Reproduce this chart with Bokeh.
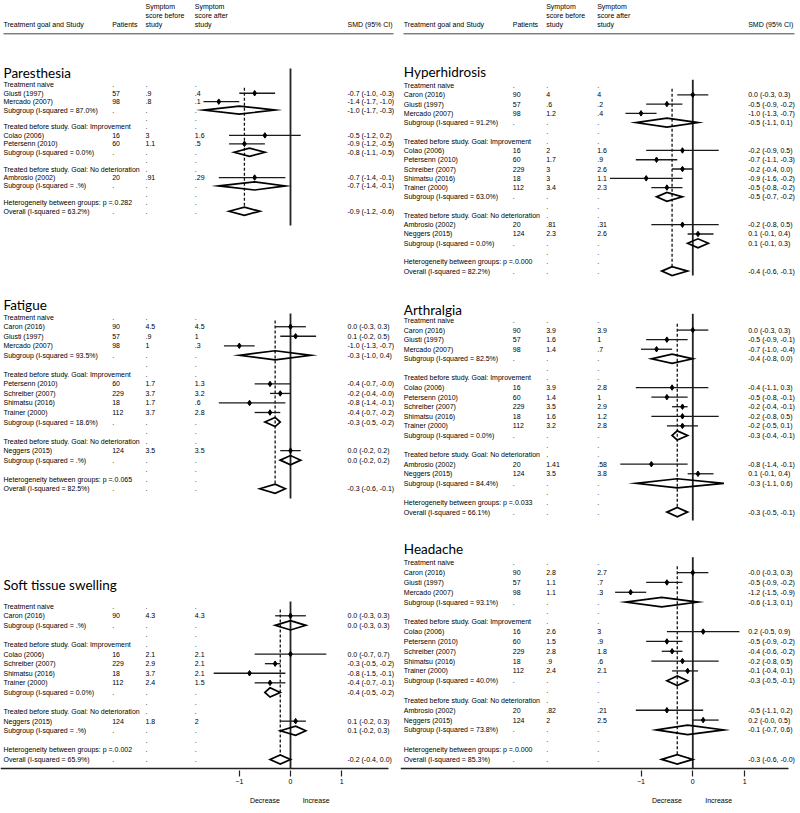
from bokeh.plotting import figure
from bokeh.models import Range1d, FixedTicker, LinearAxis, ColumnDataSource, CustomJSTickFormatter
from bokeh.layouts import row
from bokeh.embed import file_html
from bokeh.resources import INLINE
from bokeh.core.properties import value

# ---------------- data ----------------
GROUPS = ["Treatment naive",
          "Treated before study. Goal: Improvement",
          "Treated before study. Goal: No deterioration"]

# Paresthesia
PAR_STUDY = ["Giusti (1997)", "Mercado (2007)", "Colao (2006)", "Petersenn (2010)", "Ambrosio (2002)"]
PAR_GROUP = [0, 0, 1, 1, 2]
PAR_N = [57, 98, 16, 60, 20]
PAR_BEFORE = [".9", ".8", "3", "1.1", ".91"]
PAR_AFTER = [".4", ".1", "1.6", ".5", ".29"]
PAR_SMD = [-0.7, -1.4, -0.5, -0.9, -0.7]
PAR_LO = [-1.0, -1.7, -1.2, -1.2, -1.4]
PAR_HI = [-0.3, -1.0, 0.2, -0.5, -0.1]
PAR_SUB_I2 = ["87.0%", "0.0%", ".%"]
PAR_SUB_SMD = [-1.0, -0.8, -0.7]
PAR_SUB_LO = [-1.7, -1.1, -1.4]
PAR_SUB_HI = [-0.3, -0.5, -0.1]
PAR_HET_P = "0.282"
PAR_OV = ["63.2%", -0.9, -1.2, -0.6]

# Fatigue
FAT_STUDY = ["Caron (2016)", "Giusti (1997)", "Mercado (2007)", "Petersenn (2010)",
             "Schreiber (2007)", "Shimatsu (2016)", "Trainer (2000)", "Neggers (2015)"]
FAT_GROUP = [0, 0, 0, 1, 1, 1, 1, 2]
FAT_N = [90, 57, 98, 60, 229, 18, 112, 124]
FAT_BEFORE = ["4.5", ".9", "1", "1.7", "3.7", "1.7", "3.7", "3.5"]
FAT_AFTER = ["4.5", "1", ".3", "1.3", "3.2", ".6", "2.8", "3.5"]
FAT_SMD = [0.0, 0.1, -1.0, -0.4, -0.2, -0.8, -0.4, 0.0]
FAT_LO = [-0.3, -0.2, -1.3, -0.7, -0.4, -1.4, -0.7, -0.2]
FAT_HI = [0.3, 0.5, -0.7, -0.0, -0.0, -0.1, -0.2, 0.2]
FAT_SUB_I2 = ["93.5%", "18.6%", ".%"]
FAT_SUB_SMD = [-0.3, -0.3, 0.0]
FAT_SUB_LO = [-1.0, -0.5, -0.2]
FAT_SUB_HI = [0.4, -0.2, 0.2]
FAT_HET_P = "0.065"
FAT_OV = ["82.5%", -0.3, -0.6, -0.1]

# Soft tissue swelling
SOF_STUDY = ["Caron (2016)", "Colao (2006)", "Schreiber (2007)", "Shimatsu (2016)",
             "Trainer (2000)", "Neggers (2015)"]
SOF_GROUP = [0, 1, 1, 1, 1, 2]
SOF_N = [90, 16, 229, 18, 112, 124]
SOF_BEFORE = ["4.3", "2.1", "2.9", "3.7", "2.4", "1.8"]
SOF_AFTER = ["4.3", "2.1", "2.1", "2.1", "1.5", "2"]
SOF_SMD = [0.0, 0.0, -0.3, -0.8, -0.4, 0.1]
SOF_LO = [-0.3, -0.7, -0.5, -1.5, -0.7, -0.2]
SOF_HI = [0.3, 0.7, -0.2, -0.1, -0.1, 0.3]
SOF_SUB_I2 = [".%", "0.0%", ".%"]
SOF_SUB_SMD = [0.0, -0.4, 0.1]
SOF_SUB_LO = [-0.3, -0.5, -0.2]
SOF_SUB_HI = [0.3, -0.2, 0.3]
SOF_HET_P = "0.002"
SOF_OV = ["65.9%", -0.2, -0.4, 0.0]

# Studies shared by Hyperhidrosis, Arthralgia and Headache
ALL_STUDY = ["Caron (2016)", "Giusti (1997)", "Mercado (2007)", "Colao (2006)", "Petersenn (2010)",
             "Schreiber (2007)", "Shimatsu (2016)", "Trainer (2000)", "Ambrosio (2002)", "Neggers (2015)"]
ALL_GROUP = [0, 0, 0, 1, 1, 1, 1, 1, 2, 2]
ALL_N = [90, 57, 98, 16, 60, 229, 18, 112, 20, 124]

# Hyperhidrosis
HYP_BEFORE = ["4", ".6", "1.2", "2", "1.7", "3", "3", "3.4", ".81", "2.3"]
HYP_AFTER = ["4", ".2", ".4", "1.6", ".9", "2.6", "1.1", "2.3", ".31", "2.6"]
HYP_SMD = [0.0, -0.5, -1.0, -0.2, -0.7, -0.2, -0.9, -0.5, -0.2, 0.1]
HYP_LO = [-0.3, -0.9, -1.3, -0.9, -1.1, -0.4, -1.6, -0.8, -0.8, -0.1]
HYP_HI = [0.3, -0.2, -0.7, 0.5, -0.3, 0.0, -0.2, -0.2, 0.5, 0.4]
HYP_SUB_I2 = ["91.2%", "63.0%", "0.0%"]
HYP_SUB_SMD = [-0.5, -0.5, 0.1]
HYP_SUB_LO = [-1.1, -0.7, -0.1]
HYP_SUB_HI = [0.1, -0.2, 0.3]
HYP_HET_P = "0.000"
HYP_OV = ["82.2%", -0.4, -0.6, -0.1]

# Arthralgia
ART_BEFORE = ["3.9", "1.6", "1.4", "3.9", "1.4", "3.5", "1.6", "3.2", "1.41", "3.5"]
ART_AFTER = ["3.9", "1", ".7", "2.8", "1", "2.9", "1.2", "2.8", ".58", "3.8"]
ART_SMD = [0.0, -0.5, -0.7, -0.4, -0.5, -0.2, -0.2, -0.2, -0.8, 0.1]
ART_LO = [-0.3, -0.9, -1.0, -1.1, -0.8, -0.4, -0.8, -0.5, -1.4, -0.1]
ART_HI = [0.3, -0.1, -0.4, 0.3, -0.1, -0.1, 0.5, 0.1, -0.1, 0.4]
ART_SUB_I2 = ["82.5%", "0.0%", "84.4%"]
ART_SUB_SMD = [-0.4, -0.3, -0.3]
ART_SUB_LO = [-0.8, -0.4, -1.1]
ART_SUB_HI = [0.0, -0.1, 0.6]
ART_HET_P = "0.033"
ART_OV = ["66.1%", -0.3, -0.5, -0.1]

# Headache
HEA_BEFORE = ["2.8", "1.1", "1.1", "2.6", "1.5", "2.8", ".9", "2.4", ".82", "2"]
HEA_AFTER = ["2.7", ".7", ".3", "3", ".9", "1.8", ".6", "2.1", ".21", "2.5"]
HEA_SMD = [-0.0, -0.5, -1.2, 0.2, -0.5, -0.4, -0.2, -0.1, -0.5, 0.2]
HEA_LO = [-0.3, -0.9, -1.5, -0.5, -0.9, -0.6, -0.8, -0.4, -1.1, -0.0]
HEA_HI = [0.3, -0.2, -0.9, 0.9, -0.2, -0.2, 0.5, 0.1, 0.2, 0.5]
HEA_SUB_I2 = ["93.1%", "40.0%", "73.8%"]
HEA_SUB_SMD = [-0.6, -0.3, -0.1]
HEA_SUB_LO = [-1.3, -0.5, -0.7]
HEA_SUB_HI = [0.1, -0.1, 0.6]
HEA_HET_P = "0.000"
HEA_OV = ["85.3%", -0.3, -0.6, -0.0]

AXIS_TICKS = [-1, 0, 1]
DIRECTION_TICKS = [-0.5, 0.5]
DIRECTION_LABELS = ["Decrease", "Increase"]


def panel(title, study, group, n, before, after, smd, lo, hi, si2, ssmd, slo, shi, het, ov):
    return dict(title=title, study=study, group=group, n=n, before=before, after=after,
                smd=smd, lo=lo, hi=hi, si2=si2, ssmd=ssmd, slo=slo, shi=shi, het=het, ov=ov)


LEFT = [
    panel("Paresthesia", PAR_STUDY, PAR_GROUP, PAR_N, PAR_BEFORE, PAR_AFTER, PAR_SMD, PAR_LO, PAR_HI,
          PAR_SUB_I2, PAR_SUB_SMD, PAR_SUB_LO, PAR_SUB_HI, PAR_HET_P, PAR_OV),
    panel("Fatigue", FAT_STUDY, FAT_GROUP, FAT_N, FAT_BEFORE, FAT_AFTER, FAT_SMD, FAT_LO, FAT_HI,
          FAT_SUB_I2, FAT_SUB_SMD, FAT_SUB_LO, FAT_SUB_HI, FAT_HET_P, FAT_OV),
    panel("Soft tissue swelling", SOF_STUDY, SOF_GROUP, SOF_N, SOF_BEFORE, SOF_AFTER, SOF_SMD, SOF_LO, SOF_HI,
          SOF_SUB_I2, SOF_SUB_SMD, SOF_SUB_LO, SOF_SUB_HI, SOF_HET_P, SOF_OV),
]
RIGHT = [
    panel("Hyperhidrosis", ALL_STUDY, ALL_GROUP, ALL_N, HYP_BEFORE, HYP_AFTER, HYP_SMD, HYP_LO, HYP_HI,
          HYP_SUB_I2, HYP_SUB_SMD, HYP_SUB_LO, HYP_SUB_HI, HYP_HET_P, HYP_OV),
    panel("Arthralgia", ALL_STUDY, ALL_GROUP, ALL_N, ART_BEFORE, ART_AFTER, ART_SMD, ART_LO, ART_HI,
          ART_SUB_I2, ART_SUB_SMD, ART_SUB_LO, ART_SUB_HI, ART_HET_P, ART_OV),
    panel("Headache", ALL_STUDY, ALL_GROUP, ALL_N, HEA_BEFORE, HEA_AFTER, HEA_SMD, HEA_LO, HEA_HI,
          HEA_SUB_I2, HEA_SUB_SMD, HEA_SUB_LO, HEA_SUB_HI, HEA_HET_P, HEA_OV),
]

# ---------------- layout (pixel positions) ----------------
# per panel: title baseline, first row y, row step, null line top, null line bottom
LEFT_LAYOUT = [(72, 84.3, 8.43, 68, 225), (304, 316.7, 9.53, 313, 498), (584, 605.7, 9.58, 601, 768)]
RIGHT_LAYOUT = [(71.7, 85, 9.28, 79.3, 275), (309, 320, 9.58, 313.3, 520), (548, 562.3, 9.83, 556.7, 768)]
LEFT_COLS = dict(name=3, n=111.7, before=145, after=194.3, smd=347, line=(3, 393), axis=(0, 388))
RIGHT_COLS = dict(name=403.3, n=512.3, before=545.7, after=596.7, smd=747.7, line=(403, 794), axis=(400, 788))

FONT = "Liberation Sans"
TXT = "#000000"
FS = "7px"
AXIS_Y = 768


def fmt(e, l, h):
    return f"{e:.1f} ({l:.1f}, {h:.1f})"


def make_column(panels, layouts, cols, px_range, smd_range):
    p = figure(frame_width=int(px_range[1] - px_range[0]), frame_height=770,
               x_range=Range1d(*smd_range), y_range=Range1d(770, 0),
               output_backend="svg", toolbar_location=None,
               y_axis_location=None, min_border=0)
    p.extra_x_ranges = {"px": Range1d(*px_range)}
    p.outline_line_color = None
    p.grid.visible = False
    p.background_fill_color = "white"
    p.border_fill_color = "white"

    ax = p.xaxis[0]
    ax.ticker = FixedTicker(ticks=AXIS_TICKS)
    ax.minor_tick_line_color = None
    ax.major_tick_in = 0
    ax.major_tick_out = 6
    ax.major_label_standoff = 2
    ax.axis_line_color = None
    ax.major_tick_line_color = "#222222"
    ax.major_tick_line_width = 1.2
    ax.major_label_text_font = FONT
    ax.major_label_text_font_size = FS
    ax.major_label_text_color = TXT

    ax2 = LinearAxis(ticker=FixedTicker(ticks=DIRECTION_TICKS),
                     formatter=CustomJSTickFormatter(
                         args=dict(labels=DIRECTION_LABELS),
                         code="return tick < 0 ? labels[0] : labels[1];"))
    ax2.axis_line_color = None
    ax2.major_tick_line_color = None
    ax2.minor_tick_line_color = None
    ax2.major_label_standoff = 4
    ax2.major_label_text_font = FONT
    ax2.major_label_text_font_size = FS
    ax2.major_label_text_color = TXT
    p.add_layout(ax2, "below")

    tx, ty, tt = [], [], []

    def put(x, y, t):
        tx.append(x); ty.append(y); tt.append(t)

    # column headers
    put(cols["name"], 24, "Treatment goal and Study")
    put(cols["n"], 24, "Patients")
    for i, s in enumerate(["Symptom", "score before", "study"]):
        put(cols["before"], 6 + 9 * i, s)
    for i, s in enumerate(["Symptom", "score after", "study"]):
        put(cols["after"], 6 + 9 * i, s)
    put(cols["smd"], 24, "SMD (95% CI)")
    p.segment(x0=[cols["line"][0]], x1=[cols["line"][1]], y0=[33.3], y1=[33.3],
              x_range_name="px", line_color="#444444", line_width=1)
    # bottom axis line (column width)
    p.segment(x0=[cols["axis"][0]], x1=[cols["axis"][1]], y0=[AXIS_Y], y1=[AXIS_Y],
              x_range_name="px", line_color="#222222", line_width=1.6)

    ttl_x, ttl_y, ttl_t = [], [], []
    st_y, st_e, st_l, st_h = [], [], [], []
    dxs, dys = [], []
    z_y0, z_y1 = [], []
    d_x, d_y0, d_y1 = [], [], []

    for d, (tb, y0, dy, zt, zb) in zip(panels, layouts):
        ttl_x.append(cols["name"]); ttl_y.append(tb); ttl_t.append(d["title"])
        hh = 0.48 * dy
        k = 0
        for g, gname in enumerate(GROUPS):
            y = y0 + k * dy
            put(cols["name"], y, gname)
            if g == 0:
                put(cols["n"], y, ".")
            put(cols["before"], y, "."); put(cols["after"], y, ".")
            k += 1
            for i in range(len(d["study"])):
                if d["group"][i] != g:
                    continue
                y = y0 + k * dy
                put(cols["name"], y, d["study"][i])
                put(cols["n"], y, str(d["n"][i]))
                put(cols["before"], y, d["before"][i])
                put(cols["after"], y, d["after"][i])
                put(cols["smd"], y, fmt(d["smd"][i], d["lo"][i], d["hi"][i]))
                st_y.append(y); st_e.append(d["smd"][i]); st_l.append(d["lo"][i]); st_h.append(d["hi"][i])
                k += 1
            y = y0 + k * dy
            put(cols["name"], y, f"Subgroup (I-squared = {d['si2'][g]})")
            put(cols["n"], y, "."); put(cols["before"], y, "."); put(cols["after"], y, ".")
            put(cols["smd"], y, fmt(d["ssmd"][g], d["slo"][g], d["shi"][g]))
            dxs.append([d["slo"][g], d["ssmd"][g], d["shi"][g], d["ssmd"][g]])
            dys.append([y, y - hh, y, y + hh])
            k += 1
            y = y0 + k * dy
            put(cols["before"], y, "."); put(cols["after"], y, ".")
            k += 1
        y = y0 + k * dy
        put(cols["name"], y, f"Heterogeneity between groups: p = {d['het']}")
        put(cols["n"], y, "."); put(cols["before"], y, "."); put(cols["after"], y, ".")
        k += 1
        y = y0 + k * dy
        i2, oe, ol, oh = d["ov"]
        put(cols["name"], y, f"Overall (I-squared = {i2})")
        put(cols["n"], y, "."); put(cols["before"], y, "."); put(cols["after"], y, ".")
        put(cols["smd"], y, fmt(oe, ol, oh))
        dxs.append([ol, oe, oh, oe])
        dys.append([y, y - hh, y, y + hh])
        z_y0.append(zt); z_y1.append(zb)
        d_x.append(oe); d_y0.append(y0 + 0.35 * dy); d_y1.append(y - hh)

    # overall estimate dashed line
    p.segment(x0=d_x, x1=d_x, y0=d_y0, y1=d_y1, line_color="#111111", line_width=1.3, line_dash="3 2")
    # null line
    p.segment(x0=[0] * len(z_y0), x1=[0] * len(z_y0), y0=z_y0, y1=z_y1, line_color="#222222", line_width=1.8)
    # study CIs and points
    p.segment(x0=st_l, x1=st_h, y0=st_y, y1=st_y, line_color="#1a1a1a", line_width=1.3)
    p.scatter(x=st_e, y=st_y, marker="diamond", size=5.5, color="#000000")
    # pooled diamonds
    p.patches(xs=dxs, ys=dys, fill_color=None, line_color="#000000", line_width=1.7, line_join="miter")

    src = ColumnDataSource(dict(x=tx, y=ty, t=tt))
    p.text(x="x", y="y", text="t", source=src, x_range_name="px",
           text_font=value(FONT), text_font_size=FS, text_color=TXT,
           text_align="left", text_baseline="middle")
    p.text(x=ttl_x, y=ttl_y, text=ttl_t, x_range_name="px",
           text_font=value("Lato"), text_font_size="13.5px", text_color="#000000",
           text_align="left", text_baseline="alphabetic")
    return p


# x scale: left column null line at 290 px, 51.2 px per SMD unit; right: 692.3 px, 51.8 px/unit
left = make_column(LEFT, LEFT_LAYOUT, LEFT_COLS, (0, 400),
                   ((0 - 290) / 51.2, (400 - 290) / 51.2))
right = make_column(RIGHT, RIGHT_LAYOUT, RIGHT_COLS, (400, 800),
                    ((400 - 692.3) / 51.8, (800 - 692.3) / 51.8))

page = row(left, right)
open("out.html", "w").write(file_html(page, INLINE))
